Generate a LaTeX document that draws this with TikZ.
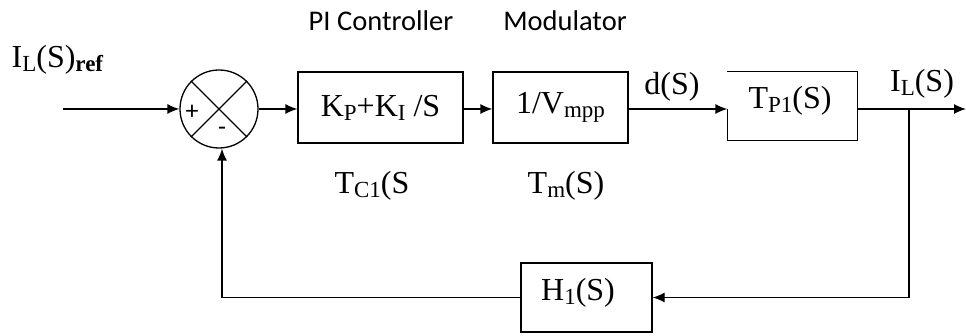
\documentclass[tikz,border=0pt]{standalone}
\usepackage{fontspec}
\setmainfont{Liberation Serif}
\newfontfamily\sansf{Carlito}
\usetikzlibrary{arrows.meta}
\newcommand\lo[1]{\raisebox{-0.12em}{\fontsize{23}{23}\selectfont #1}}
\begin{document}
\begin{tikzpicture}[x=1pt,y=-1pt,line width=1.3pt,
  >={Latex[length=12pt,width=10pt]},
  blk/.style={draw,inner sep=0pt,font=\fontsize{32}{34}\selectfont},
  lbl/.style={inner sep=0pt,font=\fontsize{32}{34}\selectfont},
  head/.style={inner sep=0pt,font=\sansf\fontsize{28.5}{30}\selectfont},
  sign/.style={inner sep=0pt,font=\sansf\fontsize{26}{28}\selectfont}]
\useasboundingbox (0,0) rectangle (966,336);
% blocks
\node[draw,circle,minimum size=78pt,inner sep=0pt] (sum) at (219,109) {};
\draw (sum.45) -- (sum.225) (sum.135) -- (sum.-45);
\node[sign] (plus) at (192,112) {+};
\node[sign] (minus) at (222,131) {-};
\node[blk,minimum width=165pt,minimum height=71pt] (pi) at (380.5,107.5) {K\lo{P}+K\lo{I} /S};
\node[blk,minimum width=135pt,minimum height=71pt] (mod) at (560.5,107.5) {1/V\lo{mpp}};
\node[lbl,minimum width=129pt,minimum height=68pt] (tp) at (792.5,106) {};
\node[lbl] (tptxt) at (790,101) {T\lo{P1}(S)};
\draw (tp.south west |- 0,109) -- (tp.south west) -- (tp.south east) -- (tp.north east) -- (tp.north west);
\node[blk,minimum width=131pt,minimum height=69pt] (h) at (586.5,297.5) {};
\node[lbl] (htxt) at (578,293) {H\lo{1}(S)};
% labels
\node[lbl,anchor=west] (ref) at (11,60) {I\lo{L}(S)\lo{\bfseries ref}};
\node[head] (pilab) at (381,21) {PI Controller};
\node[head] (modlab) at (565,21) {Modulator};
\node[lbl] (tc) at (372,186) {T\lo{C1}(S};
\node[lbl] (tm) at (566,186) {T\lo{m}(S)};
\node[lbl] (ds) at (672,87) {d(S)};
\node[lbl] (il) at (922,84) {I\lo{L}(S)};
% connectors
\coordinate (in) at (63,109);
\coordinate (out) at (966,109);
\coordinate (br) at (909,109);
\coordinate (fb) at (909,297.5);
\coordinate (fl) at (222,297.5);
\draw[->] (in) -- (sum.west);
\draw[->] (sum.east) -- (pi.west |- sum.east);
\draw[->] (pi.east |- sum.east) -- (mod.west |- sum.east);
\draw[->] (mod.east |- sum.east) -- (tp.west |- sum.east);
\draw[->] (tp.east |- sum.east) -- (out);
\draw[->] (br) -- (fb) -- (h.east);
\draw[->] (h.west) -- (fl) -- (fl |- sum.south);
\end{tikzpicture}
\end{document}
